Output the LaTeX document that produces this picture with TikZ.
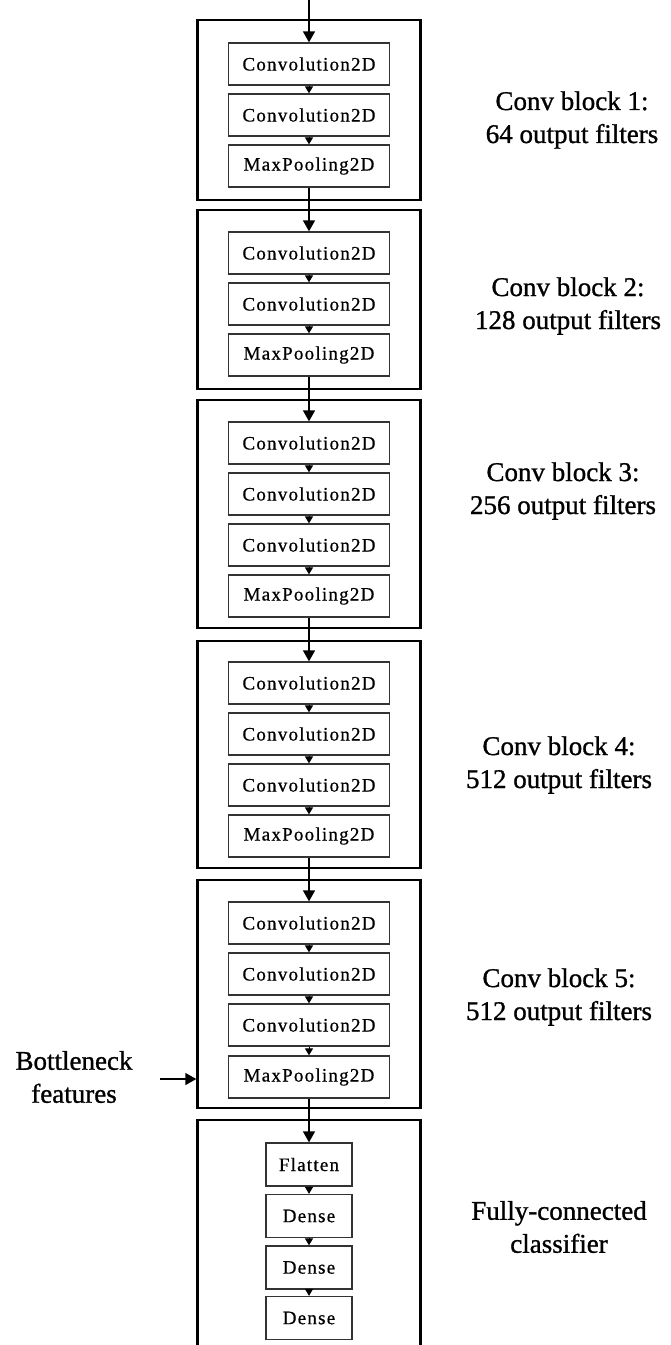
\documentclass[tikz,border=0pt]{standalone}
\usepackage{fontspec}
\setmainfont{Liberation Serif}
\newfontfamily\boxfont[LetterSpace=6.5,FakeBold=0.6]{Liberation Serif}
\newfontfamily\lblfont[FakeBold=1]{Liberation Serif}
\usetikzlibrary{arrows.meta}
\begin{document}
\begin{tikzpicture}[x=1pt,y=-1pt,
  outer/.style={draw=black,line width=2.4pt,minimum width=223pt,inner sep=0pt},
  layer/.style={draw=black!80,line width=1.3pt,minimum width=161pt,minimum height=42pt,inner sep=0pt,font=\boxfont\fontsize{19}{22}\selectfont},
  fclayer/.style={layer,minimum width=86pt,minimum height=43pt},
  lbl/.style={align=center,font=\lblfont\fontsize{27}{33}\selectfont,inner sep=0pt},
  flow/.style={line width=1.4pt,-{Triangle[length=11pt,width=12pt]}},
  smallflow/.style={line width=1pt,-{Triangle[length=7pt,width=8pt]}},
]
\clip (0,0) rectangle (670,1345);
\fill[white] (0,0) rectangle (670,1345);

% outer blocks
\node[outer,minimum height=180pt] (b1) at (309,110) {};
\node[outer,minimum height=179pt] (b2) at (309,299.5) {};
\node[outer,minimum height=228pt] (b3) at (309,514) {};
\node[outer,minimum height=227pt] (b4) at (309,754.5) {};
\node[outer,minimum height=228pt] (b5) at (309,994) {};
\node[outer,minimum height=280pt] (b6) at (309,1260) {};

% block 1
\node[layer] (c11) at (309,64) {Convolution2D};
\node[layer] (c12) at (309,115) {Convolution2D};
\node[layer] (c13) at (309,166) {MaxPooling2D};
% block 2
\node[layer] (c21) at (309,253) {Convolution2D};
\node[layer] (c22) at (309,304) {Convolution2D};
\node[layer] (c23) at (309,355) {MaxPooling2D};
% block 3
\node[layer] (c31) at (309,443) {Convolution2D};
\node[layer] (c32) at (309,494) {Convolution2D};
\node[layer] (c33) at (309,545) {Convolution2D};
\node[layer] (c34) at (309,596) {MaxPooling2D};
% block 4
\node[layer] (c41) at (309,683) {Convolution2D};
\node[layer] (c42) at (309,734) {Convolution2D};
\node[layer] (c43) at (309,785) {Convolution2D};
\node[layer] (c44) at (309,836) {MaxPooling2D};
% block 5
\node[layer] (c51) at (309,923) {Convolution2D};
\node[layer] (c52) at (309,974) {Convolution2D};
\node[layer] (c53) at (309,1025) {Convolution2D};
\node[layer] (c54) at (309,1077) {MaxPooling2D};
% block 6
\node[fclayer] (c61) at (309,1164.5) {Flatten};
\node[fclayer] (c62) at (309,1216) {Dense};
\node[fclayer] (c63) at (309,1267.5) {Dense};
\node[fclayer] (c64) at (309,1318) {Dense};

% connectors
\coordinate (in) at (309,0);
\draw[flow] (in) -- (c11.north);
\draw[smallflow] (c11) -- (c12);
\draw[smallflow] (c12) -- (c13);
\draw[flow] (c13) -- (c21);
\draw[smallflow] (c21) -- (c22);
\draw[smallflow] (c22) -- (c23);
\draw[flow] (c23) -- (c31);
\draw[smallflow] (c31) -- (c32);
\draw[smallflow] (c32) -- (c33);
\draw[smallflow] (c33) -- (c34);
\draw[flow] (c34) -- (c41);
\draw[smallflow] (c41) -- (c42);
\draw[smallflow] (c42) -- (c43);
\draw[smallflow] (c43) -- (c44);
\draw[flow] (c44) -- (c51);
\draw[smallflow] (c51) -- (c52);
\draw[smallflow] (c52) -- (c53);
\draw[smallflow] (c53) -- (c54);
\draw[flow] (c54) -- (c61);
\draw[smallflow] (c61) -- (c62);
\draw[smallflow] (c62) -- (c63);
\draw[smallflow] (c63) -- (c64);

% labels
\node[lbl] (l1) at (572,120) {Conv block 1:\\64 output filters};
\node[lbl] (l2) at (568,306) {Conv block 2:\\128 output filters};
\node[lbl] (l3) at (563,491) {Conv block 3:\\256 output filters};
\node[lbl] (l4) at (559,765) {Conv block 4:\\512 output filters};
\node[lbl] (l5) at (559,997) {Conv block 5:\\512 output filters};
\node[lbl] (l6) at (559,1227) {Fully-connected\\classifier};
\node[lbl] (bn) at (74,1077) {Bottleneck\\features};
\coordinate (bnstart) at (160,1079);
\draw[flow] (bnstart) -- (bnstart -| b5.west);
\end{tikzpicture}
\end{document}
